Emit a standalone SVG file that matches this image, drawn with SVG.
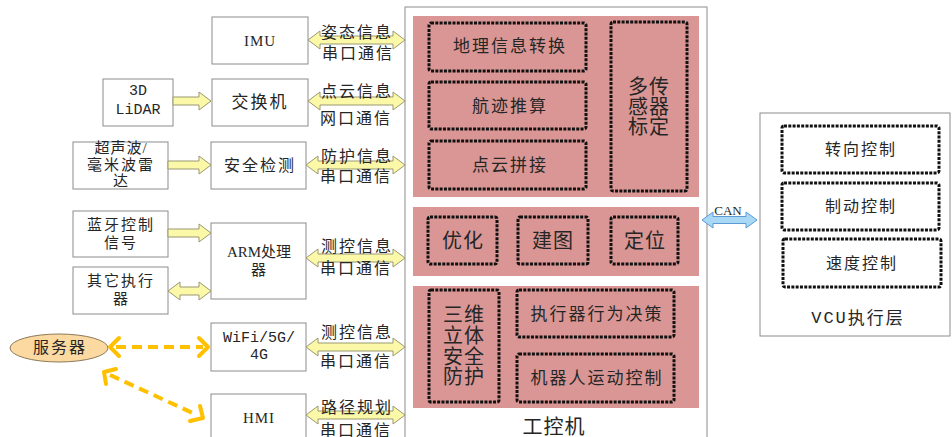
<svg xmlns="http://www.w3.org/2000/svg" width="952" height="437" viewBox="0 0 952 437">
<defs>
<style>
.box{fill:#fff;stroke:#8c8c8c;stroke-width:1}
.pink{fill:#d99694;stroke:none}
.dot{fill:none;stroke:#111;stroke-width:3;stroke-dasharray:3 1.3}
.ya{fill:#fbf8a8;stroke:#9a9870;stroke-width:1}
.ba{fill:#a9d8f5;stroke:#5b9bd5;stroke-width:1}
.oa{fill:none;stroke:#ffc000;stroke-width:4;stroke-dasharray:10 6}
.oh{fill:none;stroke:#ffc000;stroke-width:4;stroke-linecap:round;stroke-linejoin:round}
text{font-family:"Liberation Serif","Noto Sans CJK SC",serif;fill:#262626;text-anchor:middle;dominant-baseline:central}
.t16{font-size:16px;letter-spacing:2px}
.t15{font-size:15px;letter-spacing:1px}
.t17{font-size:17px;letter-spacing:2px}
.t20{font-size:20px;letter-spacing:1px}
.mono{font-family:"Liberation Mono","Noto Sans CJK SC",monospace}
</style>
</defs>

<g id="main">
<rect class="box" x="405" y="7" width="302" height="440"/>
<rect class="pink" x="413" y="16" width="286" height="181"/>
<rect class="pink" x="413" y="207" width="286" height="69"/>
<rect class="pink" x="413" y="286" width="286" height="122"/>
<text class="t20" x="554" y="427">工控机</text>
</g>
<g id="geo"><rect class="dot" x="429" y="23" width="157" height="48" rx="2"/><text class="t17" x="510" y="46">地理信息转换</text></g>
<g id="track"><rect class="dot" x="429" y="82" width="157" height="47" rx="2"/><text class="t17" x="510" y="106">航迹推算</text></g>
<g id="pcl"><rect class="dot" x="429" y="141" width="157" height="48" rx="2"/><text class="t17" x="510" y="165">点云拼接</text></g>
<g id="calib"><rect class="dot" x="611" y="22" width="76" height="169" rx="2"/>
<text class="t20" x="649" y="87">多传</text><text class="t20" x="649" y="107">感器</text><text class="t20" x="649" y="127">标定</text></g>
<g id="opt"><rect class="dot" x="428" y="217" width="69" height="47" rx="2"/><text class="t20" x="463" y="241">优化</text></g>
<g id="map"><rect class="dot" x="518" y="217" width="70" height="47" rx="2"/><text class="t20" x="553" y="241">建图</text></g>
<g id="loc"><rect class="dot" x="611" y="217" width="67" height="47" rx="2"/><text class="t20" x="645" y="241">定位</text></g>
<g id="safety3d"><rect class="dot" x="429" y="290" width="70" height="112" rx="2"/>
<text class="t20" x="464" y="315">三维</text><text class="t20" x="464" y="336">立体</text><text class="t20" x="464" y="357">安全</text><text class="t20" x="464" y="377">防护</text></g>
<g id="decision"><rect class="dot" x="517" y="290" width="157" height="47" rx="2"/><text class="t17" x="597" y="314">执行器行为决策</text></g>
<g id="motion"><rect class="dot" x="517" y="354" width="157" height="48" rx="2"/><text class="t17" x="597" y="378">机器人运动控制</text></g>

<g id="vcu">
<rect class="box" x="760" y="113" width="190" height="223"/>
<text class="t17" x="858" y="318"><tspan class="mono">VCU</tspan>执行层</text>
</g>
<g id="steer"><rect class="dot" x="782" y="126" width="157" height="47" rx="2"/><text class="t16" x="861" y="149">转向控制</text></g>
<g id="brake"><rect class="dot" x="782" y="183" width="157" height="47" rx="2"/><text class="t16" x="861" y="206">制动控制</text></g>
<g id="speed"><rect class="dot" x="783" y="239" width="158" height="48" rx="2"/><text class="t16" x="862" y="263">速度控制</text></g>

<g id="imu"><rect class="box" x="212" y="17" width="96" height="47"/><text class="t15" x="260" y="41">IMU</text></g>
<g id="switch"><rect class="box" x="212" y="79" width="96" height="47"/><text class="t17" x="260" y="102">交换机</text></g>
<g id="lidar"><rect class="box" x="103" y="79" width="70" height="47"/><text class="t15 mono" x="138" y="91" style="letter-spacing:0">3D</text><text class="t15 mono" x="138" y="110" style="letter-spacing:0">LiDAR</text></g>
<g id="radar"><rect class="box" x="73" y="142" width="95" height="47"/>
<text class="t15" x="121" y="148" style="letter-spacing:1px">超声波/</text><text class="t15" x="121" y="165" style="letter-spacing:2px">毫米波雷</text><text class="t15" x="121" y="181">达</text></g>
<g id="safe"><rect class="box" x="211" y="142" width="95" height="47"/><text class="t16" x="260" y="165">安全检测</text></g>
<g id="bt"><rect class="box" x="73" y="211" width="95" height="46"/><text class="t15" x="121" y="225" style="letter-spacing:2px">蓝牙控制</text><text class="t15" x="121" y="243" style="letter-spacing:2px">信号</text></g>
<g id="other"><rect class="box" x="73" y="267" width="95" height="47"/><text class="t15" x="121" y="281" style="letter-spacing:2px">其它执行</text><text class="t15" x="121" y="299">器</text></g>
<g id="arm"><rect class="box" x="211" y="223" width="95" height="76"/><text class="t15" x="259" y="252" style="letter-spacing:0">ARM处理</text><text class="t15" x="259" y="270">器</text></g>
<g id="wifi"><rect class="box" x="211" y="323" width="95" height="48"/><text class="t15 mono" x="259" y="338" style="letter-spacing:0">WiFi/5G/</text><text class="t15 mono" x="259" y="355" style="letter-spacing:0">4G</text></g>
<g id="hmi"><rect class="box" x="211" y="394" width="95" height="50"/><text class="t15" x="259" y="418">HMI</text></g>
<g id="server"><ellipse cx="59" cy="348" rx="49" ry="14" fill="#fbd9a1" stroke="#8c7a5a" stroke-width="1"/><text class="t16" x="60" y="347">服务器</text></g>

<g id="connectors">
<path class="ya" d="M308,40 L320,31 L320,36 L393,36 L393,31 L405,40 L393,49 L393,44 L320,44 L320,49 Z"/>
<path class="ya" d="M308,101 L320,92 L320,97 L393,97 L393,92 L405,101 L393,110 L393,105 L320,105 L320,110 Z"/>
<path class="ya" d="M306,165 L318,156 L318,161 L393,161 L393,156 L405,165 L393,174 L393,169 L318,169 L318,174 Z"/>
<path class="ya" d="M306,258 L318,249 L318,254 L393,254 L393,249 L405,258 L393,267 L393,262 L318,262 L318,267 Z"/>
<path class="ya" d="M306,347 L318,338 L318,343 L393,343 L393,338 L405,347 L393,356 L393,351 L318,351 L318,356 Z"/>
<path class="ya" d="M306,415 L318,406 L318,411 L393,411 L393,406 L405,415 L393,424 L393,419 L318,419 L318,424 Z"/>
<path class="ya" d="M173,97 L199,97 L199,92 L211,101 L199,110 L199,105 L173,105 Z"/>
<path class="ya" d="M168,161 L199,161 L199,156 L211,165 L199,174 L199,169 L168,169 Z"/>
<path class="ya" d="M168,229 L199,229 L199,224 L211,233 L199,242 L199,237 L168,237 Z"/>
<path class="ya" d="M168,291 L180,282 L180,287 L199,287 L199,282 L211,291 L199,300 L199,295 L180,295 L180,300 Z"/>
<path class="ba" d="M702,220 L713,212 L713,216.5 L746,216.5 L746,212 L757,220 L746,228 L746,223.5 L713,223.5 L713,228 Z"/>
<text x="728" y="210" style="font-size:13px">CAN</text>
<text class="t16" x="357" y="32">姿态信息</text><text class="t16" x="358" y="53">串口通信</text>
<text class="t16" x="357" y="91">点云信息</text><text class="t16" x="356" y="118">网口通信</text>
<text class="t16" x="357" y="156">防护信息</text><text class="t16" x="356" y="176">串口通信</text>
<text class="t16" x="357" y="246">测控信息</text><text class="t16" x="356" y="268">串口通信</text>
<text class="t16" x="357" y="332">测控信息</text><text class="t16" x="356" y="361">串口通信</text>
<text class="t16" x="357" y="407">路径规划</text><text class="t16" x="356" y="430">串口通信</text>
<line class="oa" x1="116" y1="347" x2="203" y2="347"/>
<polyline class="oh" points="119,338 110,347 119,356"/>
<polyline class="oh" points="199,338 208,347 199,356"/>
<line class="oa" x1="110" y1="375" x2="197" y2="415"/>
<polyline class="oh" points="106,384 104,372 116,369"/>
<polyline class="oh" points="190,421 203,418 200,406"/>
</g>
</svg>
